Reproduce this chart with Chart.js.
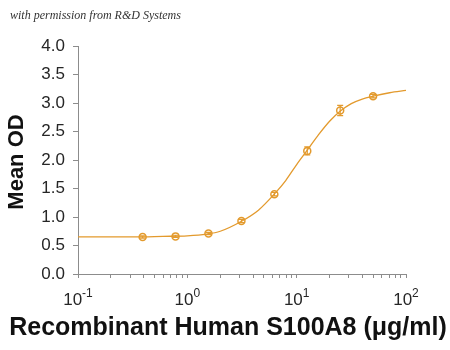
<!DOCTYPE html>
<html>
<head>
<meta charset="utf-8">
<script src="https://cdn.jsdelivr.net/npm/chart.js@4"></script>
<style>
  html, body { margin: 0; padding: 0; background: #fff; }
  #wrap { width: 450px; height: 350px; }
</style>
</head>
<body>
<div id="wrap"><canvas id="doseChart" width="450" height="350"></canvas></div>
<script>
// measured points (ug/ml vs mean OD)
const concentrations = [0.39, 0.78, 1.56, 3.125, 6.25, 12.5, 25, 50];
const meanOD = [0.65, 0.66, 0.71, 0.93, 1.40, 2.16, 2.87, 3.12];
const odError = [0.02, 0.02, 0.02, 0.03, 0.03, 0.07, 0.09, 0.03];

// fitted curve
const curveX = [0.1, 0.2, 0.32, 0.6, 1, 1.5, 2, 3.16, 4.47, 6.3, 7.94, 10, 12.6, 15.8, 20, 25.1, 31.6, 39.8, 50.1, 70.8, 100];
const curveY = [0.65, 0.65, 0.65, 0.66, 0.67, 0.70, 0.75, 0.93, 1.12, 1.41, 1.64, 1.92, 2.18, 2.44, 2.68, 2.86, 2.99, 3.07, 3.12, 3.18, 3.22];

// axis ticks
const xMajorTicks = [0.1, 1, 10, 100];
const xTickExponents = ['-1', '0', '1', '2'];
const xMinorMultipliers = [2, 3, 4, 5, 6, 7, 8, 9];
const yTicks = [0, 0.5, 1, 1.5, 2, 2.5, 3, 3.5, 4];

const orange = '#E39A2D';
const axisGray = '#8c8c8c';
const textColor = '#262626';

let xTickValues = [];
xMajorTicks.forEach((m, i) => {
    xTickValues.push(m);
    if (i < xMajorTicks.length - 1) {
        xMinorMultipliers.forEach(k => xTickValues.push(m * k));
    }
});

// labels, error bars, titles drawn on top
const extrasPlugin = {
    id: 'extras',
    beforeDraw(chart) {
        const ctx = chart.ctx;
        ctx.save();
        ctx.fillStyle = '#fff';
        ctx.fillRect(0, 0, chart.width, chart.height);
        ctx.restore();
    },
    afterDatasetsDraw(chart) {
        const ctx = chart.ctx;
        const xs = chart.scales.x, ys = chart.scales.y;
        ctx.save();
        ctx.strokeStyle = orange;
        ctx.lineWidth = 1.2;
        concentrations.forEach((c, i) => {
            const px = xs.getPixelForValue(c);
            const top = ys.getPixelForValue(meanOD[i] + odError[i]);
            const bot = ys.getPixelForValue(meanOD[i] - odError[i]);
            ctx.beginPath();
            ctx.moveTo(px, top); ctx.lineTo(px, bot);
            ctx.moveTo(px - 3, top); ctx.lineTo(px + 3, top);
            ctx.moveTo(px - 3, bot); ctx.lineTo(px + 3, bot);
            ctx.stroke();
        });
        ctx.restore();
    },
    afterDraw(chart) {
        const ctx = chart.ctx;
        const xs = chart.scales.x;
        ctx.save();
        ctx.fillStyle = textColor;

        // x tick labels with superscript powers
        xMajorTicks.forEach((v, i) => {
            const px = xs.getPixelForValue(v);
            ctx.font = '17px "Liberation Sans", Arial, sans-serif';
            const wb = ctx.measureText('10').width;
            ctx.font = '12px "Liberation Sans", Arial, sans-serif';
            const we = ctx.measureText(xTickExponents[i]).width;
            const start = px - (wb + we) / 2;
            ctx.textAlign = 'left';
            ctx.textBaseline = 'alphabetic';
            ctx.font = '17px "Liberation Sans", Arial, sans-serif';
            ctx.fillText('10', start, 305);
            ctx.font = '12px "Liberation Sans", Arial, sans-serif';
            ctx.fillText(xTickExponents[i], start + wb, 297);
        });

        // axis titles
        ctx.fillStyle = '#111';
        ctx.font = 'bold 25px "Liberation Sans", Arial, sans-serif';
        ctx.textAlign = 'center';
        ctx.textBaseline = 'middle';
        ctx.fillText('Recombinant Human S100A8 (\u03bcg/ml)', 228, 328);

        ctx.save();
        ctx.translate(17, 162);
        ctx.rotate(-Math.PI / 2);
        ctx.font = 'bold 22px "Liberation Sans", Arial, sans-serif';
        ctx.fillText('Mean OD', 0, 0);
        ctx.restore();

        // credit line
        ctx.fillStyle = '#333';
        ctx.font = 'italic 12px "Liberation Serif", serif';
        ctx.textAlign = 'left';
        ctx.textBaseline = 'alphabetic';
        ctx.fillText('with permission from R&D Systems', 10, 19);
        ctx.restore();
    }
};

const ctx = document.getElementById('doseChart').getContext('2d');
const doseChart = new Chart(ctx, {
    type: 'scatter',
    data: {
        datasets: [{
            label: 'fit',
            data: curveX.map((x, i) => ({ x: x, y: curveY[i] })),
            showLine: true,
            borderColor: orange,
            borderWidth: 1.3,
            pointRadius: 0,
            cubicInterpolationMode: 'monotone',
            fill: false
        }, {
            label: 'S100A8',
            data: concentrations.map((x, i) => ({ x: x, y: meanOD[i] })),
            showLine: false,
            pointRadius: 3.5,
            pointBorderWidth: 1.5,
            pointBorderColor: orange,
            pointBackgroundColor: 'rgba(255,255,255,0.6)'
        }]
    },
    options: {
        responsive: false,
        animation: false,
        devicePixelRatio: 1,
        layout: { padding: { top: 46, right: 44, left: 0, bottom: 0 } },
        plugins: {
            legend: { display: false },
            tooltip: { enabled: false }
        },
        scales: {
            x: {
                type: 'logarithmic',
                min: 0.1,
                max: 100,
                afterBuildTicks: s => { s.ticks = xTickValues.map(v => ({ value: v })); },
                afterFit: s => { s.height = 76; },
                ticks: { autoSkip: false, callback: () => '' },
                grid: { drawOnChartArea: false, drawTicks: true, tickLength: 4, color: axisGray },
                border: { color: axisGray, width: 1 }
            },
            y: {
                min: 0,
                max: 4,
                afterBuildTicks: s => { s.ticks = yTicks.map(v => ({ value: v })); },
                afterFit: s => { s.width = 78; },
                ticks: {
                    callback: v => Number(v).toFixed(1),
                    color: textColor,
                    padding: 8,
                    font: { family: '"Liberation Sans", Arial, sans-serif', size: 17 }
                },
                grid: { drawOnChartArea: false, drawTicks: true, tickLength: 5, color: axisGray },
                border: { color: axisGray, width: 1 }
            }
        }
    },
    plugins: [extrasPlugin]
});
</script>
</body>
</html>
